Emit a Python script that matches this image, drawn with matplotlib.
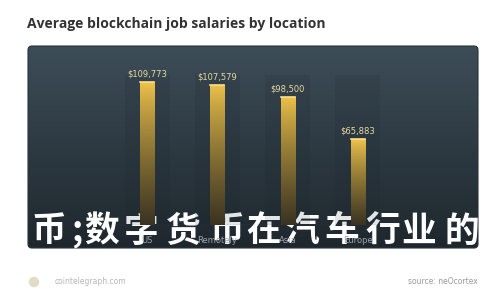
import matplotlib
matplotlib.use("Agg")
import matplotlib.pyplot as plt
import numpy as np
from matplotlib.patches import FancyBboxPatch

# data
locations = ["US", "Remotely", "Asia", "Europe"]
salaries = [109773, 107579, 98500, 65883]
salary_labels = ["$109,773", "$107,579", "$98,500", "$65,883"]

title = "Average blockchain job salaries by location"
overlay = "币;数字货币在汽车行业的"
site = "cointelegraph.com"
source = "source: neOcortex"

fig = plt.figure(figsize=(5, 3), dpi=100)
fig.patch.set_facecolor("white")

# ── dark panel with vertical gradient ────────────────────────────────────────
bg = fig.add_axes([0, 0, 1, 1])
bg.set_xlim(0, 500)
bg.set_ylim(300, 0)
bg.axis("off")
panel = FancyBboxPatch((28, 46), 450, 202, boxstyle="round,pad=0,rounding_size=4",
                       facecolor="none", edgecolor="#2a343b", linewidth=0.8)
bg.add_patch(panel)
grad = np.linspace(0, 1, 256).reshape(-1, 1)
top = np.array([0x3d, 0x4d, 0x58]) / 255
bot = np.array([0x1e, 0x27, 0x2d]) / 255
img = top + (bot - top) * grad[..., None]
im = bg.imshow(img, extent=(28, 478, 248, 46), aspect="auto", zorder=0)
im.set_clip_path(panel)

bg.text(27, 24, title, fontsize=10, fontweight="bold", color="#333333",
        va="center", ha="left", family="Open Sans")
bg.text(55, 282, site, fontsize=5.5, color="#b5b5b5", va="center")
bg.text(478, 282, source, fontsize=5.5, color="#999999", va="center", ha="right")
bg.add_patch(plt.Circle((34, 282), 4.5, color="#e3dcc4"))

# ── bars ────────────────────────────────────────────────────────────────────
ax = fig.add_axes([112 / 500, 75 / 300, 281 / 500, 150 / 300])
ax.patch.set_alpha(0)
x = np.arange(len(locations))
ymax = 115150

# faint column behind each bar
ax.bar(x, [ymax * 1.1] * len(x), width=0.64, color="#18222a", alpha=0.12, zorder=1)
bars = ax.bar(x, salaries, width=0.2, color="#c99a2e", zorder=2)
bar_grad = np.linspace(0, 1, 256).reshape(-1, 1) ** 0.8
gold_top = np.array([0xf2, 0xc6, 0x4c]) / 255
gold_bot = np.array([0x3a, 0x33, 0x22]) / 255
bar_img = gold_top + (gold_bot - gold_top) * bar_grad[..., None]
for b in bars:
    x0, y0 = b.get_xy()
    bi = ax.imshow(bar_img, extent=(x0, x0 + b.get_width(), y0, y0 + b.get_height()),
                   aspect="auto", zorder=3)
    bi.set_clip_path(b)
    ax.plot([x0, x0 + b.get_width()], [b.get_height()] * 2, color="#fbe08a",
            linewidth=1.2, zorder=4)
ax.set_aspect("auto")
ax.set_xlim(-0.5, len(locations) - 0.5)
ax.set_ylim(0, ymax)

for xi, v, lab in zip(x, salaries, salary_labels):
    ax.text(xi, v + 2500, lab, ha="center", va="bottom", fontsize=6,
            color="#e8d9a0", zorder=5)

ax.axhline(0, color="#4a5860", linewidth=0.8, zorder=1)
ax.set_xticks(x)
ax.set_xticklabels(locations, fontsize=6, color="#9aa4aa")
ax.tick_params(length=0, pad=8)
ax.set_yticks([])
for s in ax.spines.values():
    s.set_visible(False)

# ── overlay text (wide-spaced watermark) ─────────────────────────────────────
char_x = [49, 77, 102, 141, 183, 227, 264, 301, 342, 383, 419, 462]
for ch, cx in zip(overlay, char_x):
    bg.text(cx, 231, ch, fontsize=25, fontweight="bold", color="white",
            ha="center", va="center", family=["Noto Sans CJK SC", "DejaVu Sans"],
            zorder=10)

fig.savefig("out.png", dpi=100, facecolor="white")
